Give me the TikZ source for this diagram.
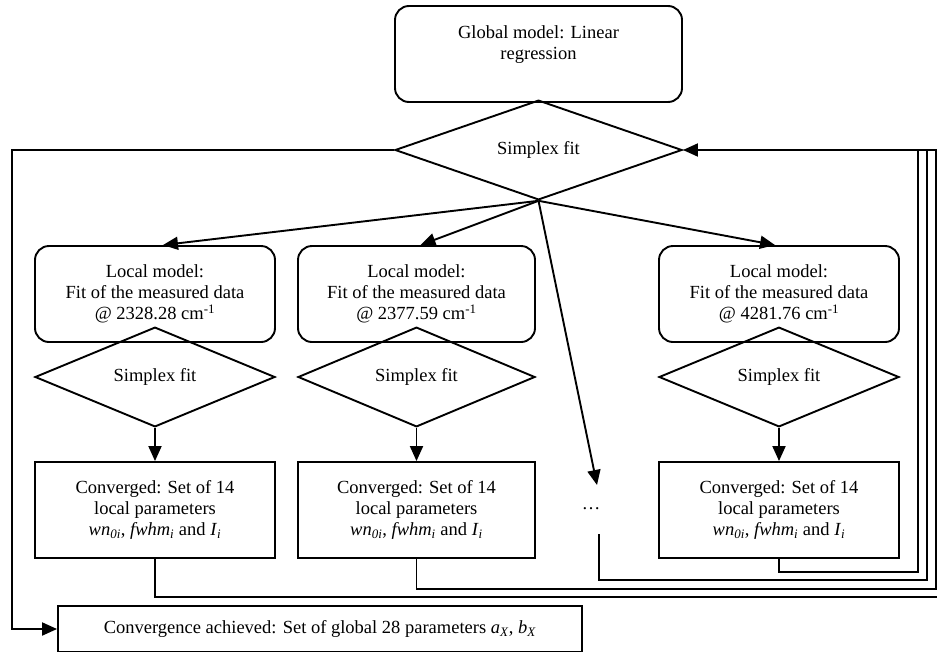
\documentclass[tikz,border=0pt]{standalone}
\usepackage{fontspec}
\setmainfont{Liberation Serif}
\usetikzlibrary{shapes.geometric,arrows.meta}
\begin{document}
\begin{tikzpicture}[x=1pt,y=-1pt,
  every node/.style={font=\fontsize{18.5}{21}\selectfont},
  rbox/.style={draw,line width=1.9pt,rounded corners=14pt,minimum height=96pt,inner sep=0pt,align=center},
  sbox/.style={draw,line width=1.9pt,minimum height=96pt,inner sep=0pt,align=center},
  dia/.style={draw,line width=1.9pt,diamond,inner sep=0pt},
  arr/.style={line width=1.9pt,-{Triangle[length=15pt,width=13pt]}},
  ret/.style={line width=1.4pt},
  ]
\useasboundingbox (0,0) rectangle (937,651);
\fill[white] (0,0) rectangle (937,651);
\clip (0,0) rectangle (937,651);

% global model
\node[rbox,minimum width=287pt] (gm) at (538.5,54) {};
\node[align=center,inner sep=0pt] (gmt) at (538.5,45) {Global model: Linear\\regression};
\node[dia,minimum width=287pt,minimum height=96pt] (sd) at (538.5,150) {Simplex fit};

% local models
\node[rbox,minimum width=240pt] (l1) at (155,294) {Local model:\\Fit of the measured data\\@ 2328.28 cm\textsuperscript{-1}};
\node[rbox,minimum width=237pt] (l2) at (416.5,294) {Local model:\\Fit of the measured data\\@ 2377.59 cm\textsuperscript{-1}};
\node[rbox,minimum width=240pt] (l3) at (779,294) {Local model:\\Fit of the measured data\\@ 4281.76 cm\textsuperscript{-1}};

\node[dia,minimum width=240pt,minimum height=70pt] (d1) at (155,377) {Simplex fit};
\node[dia,minimum width=237pt,minimum height=70pt] (d2) at (416.5,377) {Simplex fit};
\node[dia,minimum width=240pt,minimum height=70pt] (d3) at (779,377) {Simplex fit};

\node[sbox,minimum width=240pt] (c1) at (155,510) {Converged: Set of 14\\local parameters\\\textit{wn}\textsubscript{\textit{0i}}, \textit{fwhm}\textsubscript{\textit{i}} and \textit{I}\textsubscript{\textit{i}}};
\node[sbox,minimum width=237pt] (c2) at (416.5,510) {Converged: Set of 14\\local parameters\\\textit{wn}\textsubscript{\textit{0i}}, \textit{fwhm}\textsubscript{\textit{i}} and \textit{I}\textsubscript{\textit{i}}};
\node[sbox,minimum width=240pt] (c3) at (779,510) {Converged: Set of 14\\local parameters\\\textit{wn}\textsubscript{\textit{0i}}, \textit{fwhm}\textsubscript{\textit{i}} and \textit{I}\textsubscript{\textit{i}}};

\node[inner sep=0pt] (dots) at (591,509) {\dots};
\coordinate (dotsin) at (597,485);
\coordinate (dotsout) at (599,534);

\node[sbox,minimum width=524pt,minimum height=46pt] (fin) at (320,629) {Convergence achieved: Set of global 28 parameters \textit{a}\textsubscript{\textit{X}}, \textit{b}\textsubscript{\textit{X}}};

% arrows from global simplex
\draw[arr] (sd.south) -- ([xshift=8pt]l1.north);
\draw[arr] (sd.south) -- ([xshift=4pt]l2.north);
\draw[arr] (sd.south) -- ([xshift=-4pt]l3.north);
\draw[arr] (sd.south) -- (dotsin);

% local simplex to converged
\draw[arr] (d1.south) -- (c1.north);
\draw[arr] (d2.south) -- (c2.north);
\draw[arr] (d3.south) -- (c3.north);

% return loops
\coordinate (rtop) at (945,150);
\draw[ret] (c1.south) |- (945,597) -- (rtop);
\draw[ret] (c2.south) |- (936,589) -- (936,150);
\draw[ret] (dotsout) |- (927,580) -- (927,150);
\draw[ret] (c3.south) |- (918,572) -- (918,150);
\draw[arr] (rtop) -- (sd.east);

% convergence exit
\draw[arr] (sd.west) -- (12,150) -- (12,629) -- (fin.west);
\end{tikzpicture}
\end{document}
